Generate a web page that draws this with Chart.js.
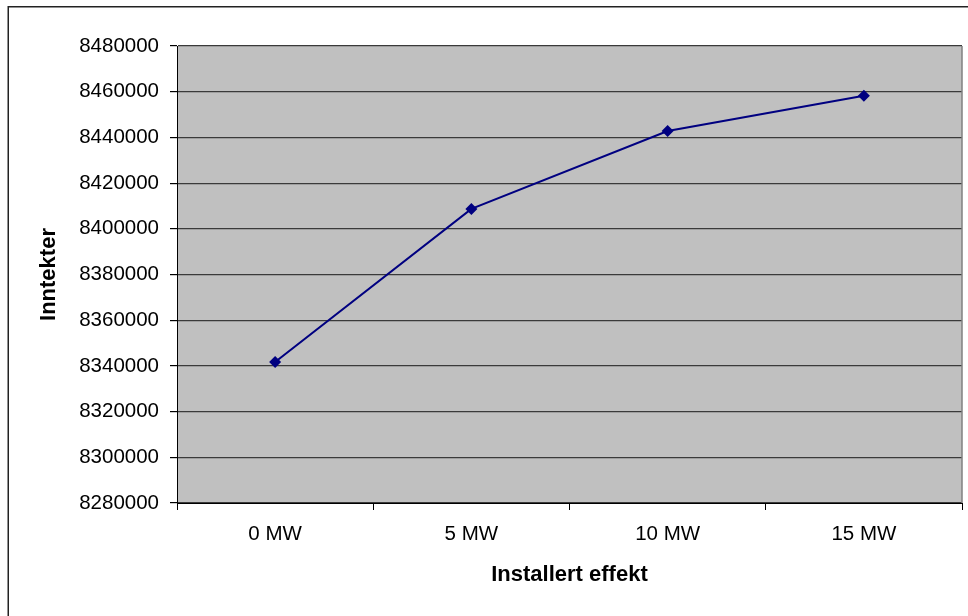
<!DOCTYPE html>
<html>
<head>
<meta charset="utf-8">
<script src="https://cdn.jsdelivr.net/npm/chart.js@4"></script>
<style>
  html, body { margin: 0; padding: 0; background: #fff; }
  canvas { display: block; }
</style>
</head>
<body>
<canvas id="chart" width="968" height="616"></canvas>
<script>
const categories = ['0 MW', '5 MW', '10 MW', '15 MW'];
const revenue = [8341700, 8408700, 8442800, 8458200];
const yMin = 8280000;
const yMax = 8480000;
const yStep = 20000;

const FONT = "'Liberation Sans', Arial, sans-serif";

// grey plot area, its right edge, and the outer frame of the chart
const frame = {
  id: 'frame',
  beforeDraw(chart) {
    const { ctx, chartArea: a } = chart;
    ctx.save();
    ctx.fillStyle = '#c0c0c0';
    ctx.fillRect(a.left, a.top, a.right - a.left, a.bottom - a.top);
    ctx.restore();
  },
  afterDraw(chart) {
    const { ctx, chartArea: a } = chart;
    ctx.save();
    ctx.strokeStyle = '#808080';
    ctx.lineWidth = 1.5;
    ctx.beginPath();
    ctx.moveTo(a.right, a.top);
    ctx.lineTo(a.right, a.bottom);
    ctx.stroke();
    ctx.strokeStyle = '#222';
    ctx.lineWidth = 1.5;
    ctx.strokeRect(8.25, 6.75, 1000, 700);
    ctx.restore();
  },
};

const ctx = document.getElementById('chart').getContext('2d');
new Chart(ctx, {
  type: 'line',
  data: {
    labels: categories,
    datasets: [
      {
        data: revenue,
        borderColor: '#000080',
        backgroundColor: '#000080',
        borderWidth: 2,
        pointStyle: 'rectRot',
        pointRadius: 6,
        pointBorderWidth: 0,
        tension: 0,
      },
    ],
  },
  options: {
    responsive: false,
    maintainAspectRatio: false,
    animation: false,
    layout: { padding: { left: 8, top: 46, right: 6, bottom: 0 } },
    plugins: {
      legend: { display: false },
      tooltip: { enabled: false },
    },
    scales: {
      x: {
        offset: true,
        grid: {
          offset: true,
          drawOnChartArea: false,
          drawTicks: true,
          tickLength: 7,
          tickColor: '#000',
        },
        border: { color: '#000', width: 1 },
        ticks: {
          color: '#000',
          padding: 12,
          font: { family: FONT, size: 20.5 },
        },
        title: {
          display: true,
          text: 'Installert effekt',
          color: '#000',
          padding: { top: 0, bottom: 28 },
          font: { family: FONT, size: 22, weight: 'bold' },
        },
        afterFit(scale) {
          scale.height = 113;
        },
      },
      y: {
        min: yMin,
        max: yMax,
        grid: {
          color: '#3a3a3a',
          lineWidth: 1.2,
          tickLength: 7,
          tickColor: '#000',
        },
        border: { color: '#000', width: 1 },
        ticks: {
          stepSize: yStep,
          color: '#000',
          padding: 11,
          font: { family: FONT, size: 20.5 },
          callback: (v) => String(v),
        },
        title: {
          display: true,
          text: 'Inntekter',
          color: '#000',
          padding: { top: 28, bottom: 0 },
          font: { family: FONT, size: 22, weight: 'bold' },
        },
        afterFit(scale) {
          scale.width = 169;
        },
      },
    },
  },
  plugins: [frame],
});
</script>
</body>
</html>
